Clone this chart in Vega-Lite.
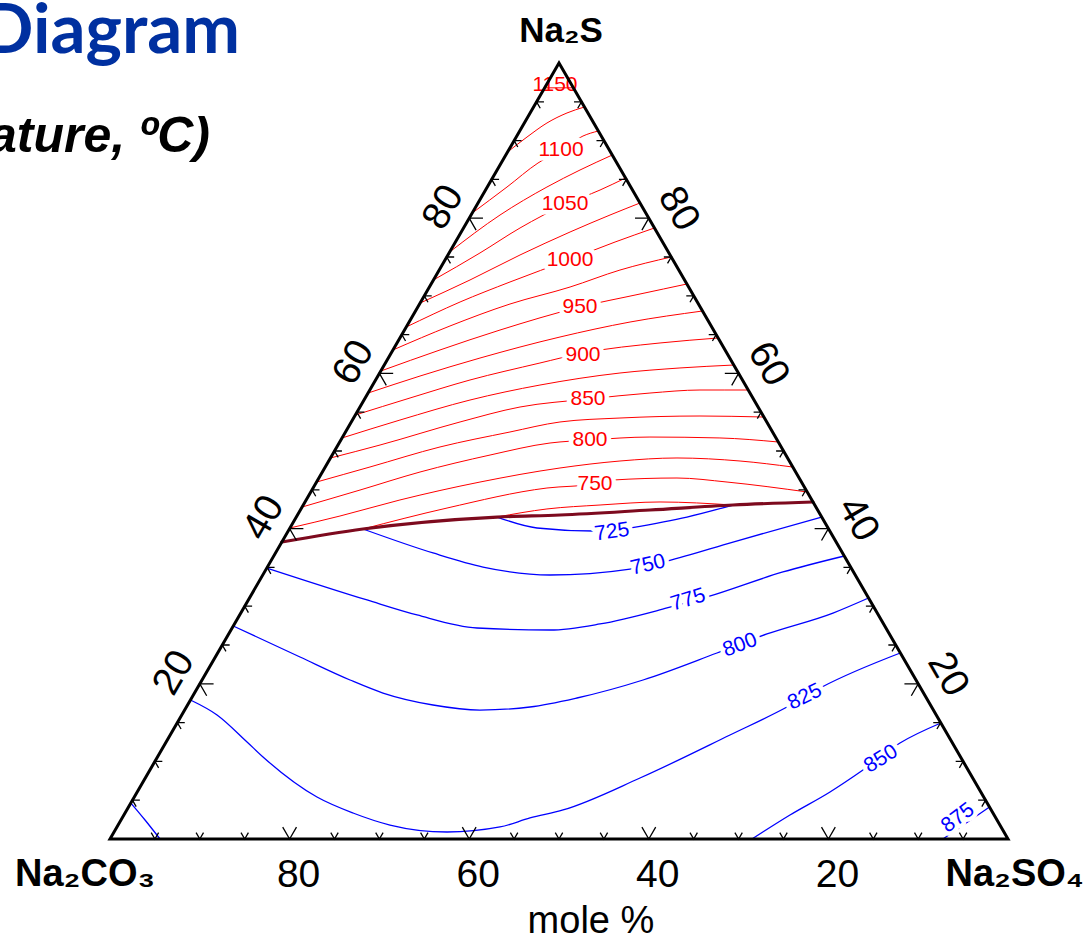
{
"$schema":"https://vega.github.io/schema/vega-lite/v6.json",
"width":898,"height":776,
"autosize":{"type":"none"},
"padding":{"left":110,"top":63,"right":79,"bottom":103},
"background":"white",
"config":{"view":{"stroke":null}},
"datasets":{
"contours":[
{"id":"r1150","kind":"red","k":0,"x":48.4,"s":96.8},{"id":"r1150","kind":"red","k":1,"x":51.6,"s":96.8},
{"id":"r1125","kind":"red","k":0,"x":44.27,"s":88.53},{"id":"r1125","kind":"red","k":1,"x":46.44,"s":90.46},{"id":"r1125","kind":"red","k":2,"x":48.66,"s":92.27},{"id":"r1125","kind":"red","k":3,"x":50.89,"s":93.56},{"id":"r1125","kind":"red","k":4,"x":52.83,"s":94.33},
{"id":"r1100","kind":"red","k":0,"x":40.34,"s":80.67},{"id":"r1100","kind":"red","k":1,"x":44.21,"s":84.02},{"id":"r1100","kind":"red","k":2,"x":47.66,"s":87.11},{"id":"r1100","kind":"red","k":3,"x":50.22,"s":88.79},{"id":"r1100","kind":"red","k":4,"x":52.67,"s":90.59},{"id":"r1100","kind":"red","k":5,"x":54.38,"s":91.24},
{"id":"r1075","kind":"red","k":0,"x":37.82,"s":75.64},{"id":"r1075","kind":"red","k":1,"x":43.43,"s":80.41},{"id":"r1075","kind":"red","k":2,"x":48.66,"s":84.02},{"id":"r1075","kind":"red","k":3,"x":52.34,"s":86.21},{"id":"r1075","kind":"red","k":4,"x":55.93,"s":88.14},
{"id":"r1050","kind":"red","k":0,"x":36.02,"s":72.04},{"id":"r1050","kind":"red","k":1,"x":41.2,"s":75.52},{"id":"r1050","kind":"red","k":2,"x":45.66,"s":78.74},{"id":"r1050","kind":"red","k":3,"x":50.78,"s":81.83},{"id":"r1050","kind":"red","k":4,"x":54.57,"s":83.63},{"id":"r1050","kind":"red","k":5,"x":57.41,"s":85.18},
{"id":"r1025","kind":"red","k":0,"x":34.54,"s":69.07},{"id":"r1025","kind":"red","k":1,"x":40.09,"s":72.04},{"id":"r1025","kind":"red","k":2,"x":45.66,"s":75.26},{"id":"r1025","kind":"red","k":3,"x":51.23,"s":78.22},{"id":"r1025","kind":"red","k":4,"x":55.68,"s":80.41},{"id":"r1025","kind":"red","k":5,"x":59.02,"s":81.96},
{"id":"r1000","kind":"red","k":0,"x":32.99,"s":65.98},{"id":"r1000","kind":"red","k":1,"x":38.98,"s":69.2},{"id":"r1000","kind":"red","k":2,"x":44.54,"s":71.78},{"id":"r1000","kind":"red","k":3,"x":51.34,"s":74.74},{"id":"r1000","kind":"red","k":4,"x":56.24,"s":76.93},{"id":"r1000","kind":"red","k":5,"x":60.63,"s":78.74},
{"id":"r975","kind":"red","k":0,"x":31.51,"s":63.02},{"id":"r975","kind":"red","k":1,"x":37.86,"s":66.11},{"id":"r975","kind":"red","k":2,"x":44.54,"s":68.94},{"id":"r975","kind":"red","k":3,"x":51.23,"s":71.13},{"id":"r975","kind":"red","k":4,"x":56.79,"s":73.32},{"id":"r975","kind":"red","k":5,"x":62.5,"s":75.0},
{"id":"r950","kind":"red","k":0,"x":30.16,"s":60.31},{"id":"r950","kind":"red","k":1,"x":36.75,"s":63.02},{"id":"r950","kind":"red","k":2,"x":43.43,"s":65.59},{"id":"r950","kind":"red","k":3,"x":52.34,"s":68.56},{"id":"r950","kind":"red","k":4,"x":59.02,"s":70.23},{"id":"r950","kind":"red","k":5,"x":64.24,"s":71.52},
{"id":"r925","kind":"red","k":0,"x":28.74,"s":57.47},{"id":"r925","kind":"red","k":1,"x":34.52,"s":59.66},{"id":"r925","kind":"red","k":2,"x":41.2,"s":61.98},{"id":"r925","kind":"red","k":3,"x":50.11,"s":64.69},{"id":"r925","kind":"red","k":4,"x":57.91,"s":66.62},{"id":"r925","kind":"red","k":5,"x":65.98,"s":68.04},
{"id":"r900","kind":"red","k":0,"x":27.32,"s":54.64},{"id":"r900","kind":"red","k":1,"x":33.41,"s":56.83},{"id":"r900","kind":"red","k":2,"x":40.09,"s":59.15},{"id":"r900","kind":"red","k":3,"x":47.88,"s":61.34},{"id":"r900","kind":"red","k":4,"x":52.67,"s":62.63},{"id":"r900","kind":"red","k":5,"x":61.25,"s":63.92},{"id":"r900","kind":"red","k":6,"x":67.72,"s":64.56},
{"id":"r875","kind":"red","k":0,"x":25.84,"s":51.68},{"id":"r875","kind":"red","k":1,"x":32.29,"s":53.99},{"id":"r875","kind":"red","k":2,"x":40.09,"s":56.57},{"id":"r875","kind":"red","k":3,"x":47.88,"s":58.5},{"id":"r875","kind":"red","k":4,"x":56.79,"s":60.05},{"id":"r875","kind":"red","k":5,"x":63.47,"s":60.7},{"id":"r875","kind":"red","k":6,"x":69.46,"s":61.08},
{"id":"r850","kind":"red","k":0,"x":24.55,"s":49.1},{"id":"r850","kind":"red","k":1,"x":30.07,"s":50.77},{"id":"r850","kind":"red","k":2,"x":38.98,"s":53.74},{"id":"r850","kind":"red","k":3,"x":45.66,"s":55.67},{"id":"r850","kind":"red","k":4,"x":53.23,"s":56.7},{"id":"r850","kind":"red","k":5,"x":60.13,"s":57.47},{"id":"r850","kind":"red","k":6,"x":65.7,"s":57.86},{"id":"r850","kind":"red","k":7,"x":71.07,"s":57.86},
{"id":"r825","kind":"red","k":0,"x":23.0,"s":46.0},{"id":"r825","kind":"red","k":1,"x":28.95,"s":47.94},{"id":"r825","kind":"red","k":2,"x":36.75,"s":50.52},{"id":"r825","kind":"red","k":3,"x":44.54,"s":52.45},{"id":"r825","kind":"red","k":4,"x":50.11,"s":53.74},{"id":"r825","kind":"red","k":5,"x":56.79,"s":54.25},{"id":"r825","kind":"red","k":6,"x":65.7,"s":54.51},{"id":"r825","kind":"red","k":7,"x":72.8,"s":54.38},
{"id":"r800","kind":"red","k":0,"x":21.39,"s":42.78},{"id":"r800","kind":"red","k":1,"x":27.84,"s":44.97},{"id":"r800","kind":"red","k":2,"x":34.52,"s":47.29},{"id":"r800","kind":"red","k":3,"x":42.32,"s":49.48},{"id":"r800","kind":"red","k":4,"x":49.0,"s":51.03},{"id":"r800","kind":"red","k":5,"x":53.45,"s":51.42},{"id":"r800","kind":"red","k":6,"x":60.13,"s":51.8},{"id":"r800","kind":"red","k":7,"x":67.92,"s":51.68},{"id":"r800","kind":"red","k":8,"x":74.42,"s":51.16},
{"id":"r775","kind":"red","k":0,"x":20.04,"s":40.08},{"id":"r775","kind":"red","k":1,"x":25.61,"s":41.62},{"id":"r775","kind":"red","k":2,"x":32.29,"s":43.69},{"id":"r775","kind":"red","k":3,"x":41.2,"s":46.0},{"id":"r775","kind":"red","k":4,"x":50.11,"s":47.81},{"id":"r775","kind":"red","k":5,"x":56.79,"s":48.71},{"id":"r775","kind":"red","k":6,"x":63.14,"s":49.1},{"id":"r775","kind":"red","k":7,"x":70.16,"s":48.71},{"id":"r775","kind":"red","k":8,"x":76.0,"s":47.94},
{"id":"r750","kind":"red","k":0,"x":28.17,"s":39.95},{"id":"r750","kind":"red","k":1,"x":37.53,"s":42.65},{"id":"r750","kind":"red","k":2,"x":48.66,"s":45.23},{"id":"r750","kind":"red","k":3,"x":54.01,"s":45.75},{"id":"r750","kind":"red","k":4,"x":56.01,"s":46.26},{"id":"r750","kind":"red","k":5,"x":63.14,"s":46.52},{"id":"r750","kind":"red","k":6,"x":68.71,"s":46.0},{"id":"r750","kind":"red","k":7,"x":77.62,"s":44.72},
{"id":"r725","kind":"red","k":0,"x":43.1,"s":41.49},{"id":"r725","kind":"red","k":1,"x":48.66,"s":42.53},{"id":"r725","kind":"red","k":2,"x":54.57,"s":43.04},{"id":"r725","kind":"red","k":3,"x":61.25,"s":43.43},{"id":"r725","kind":"red","k":4,"x":69.38,"s":43.04},
{"id":"valley","kind":"valley","k":0,"x":19.14,"s":38.27},{"id":"valley","kind":"valley","k":1,"x":28.17,"s":39.95},{"id":"valley","kind":"valley","k":2,"x":43.1,"s":41.49},{"id":"valley","kind":"valley","k":3,"x":50.11,"s":41.75},{"id":"valley","kind":"valley","k":4,"x":60.13,"s":42.4},{"id":"valley","kind":"valley","k":5,"x":69.38,"s":43.04},{"id":"valley","kind":"valley","k":6,"x":78.28,"s":43.43},
{"id":"b725","kind":"blue","k":0,"x":43.1,"s":41.49},{"id":"b725","kind":"blue","k":1,"x":47.55,"s":40.08},{"id":"b725","kind":"blue","k":2,"x":53.79,"s":39.69},{"id":"b725","kind":"blue","k":3,"x":55.9,"s":39.69},{"id":"b725","kind":"blue","k":4,"x":57.91,"s":40.08},{"id":"b725","kind":"blue","k":5,"x":64.25,"s":41.49},{"id":"b725","kind":"blue","k":6,"x":69.38,"s":43.04},
{"id":"b750","kind":"blue","k":0,"x":28.17,"s":39.95},{"id":"b750","kind":"blue","k":1,"x":35.97,"s":36.86},{"id":"b750","kind":"blue","k":2,"x":41.54,"s":35.05},{"id":"b750","kind":"blue","k":3,"x":49.0,"s":34.02},{"id":"b750","kind":"blue","k":4,"x":57.91,"s":34.79},{"id":"b750","kind":"blue","k":5,"x":62.03,"s":35.82},{"id":"b750","kind":"blue","k":6,"x":69.38,"s":38.27},{"id":"b750","kind":"blue","k":7,"x":79.25,"s":41.49},
{"id":"b775","kind":"blue","k":0,"x":17.46,"s":34.92},{"id":"b775","kind":"blue","k":1,"x":28.62,"s":30.8},{"id":"b775","kind":"blue","k":2,"x":34.19,"s":28.87},{"id":"b775","kind":"blue","k":3,"x":40.87,"s":27.19},{"id":"b775","kind":"blue","k":4,"x":49.0,"s":26.93},{"id":"b775","kind":"blue","k":5,"x":54.57,"s":27.71},{"id":"b775","kind":"blue","k":6,"x":62.03,"s":29.77},{"id":"b775","kind":"blue","k":7,"x":66.48,"s":31.19},{"id":"b775","kind":"blue","k":8,"x":74.94,"s":34.41},{"id":"b775","kind":"blue","k":9,"x":81.77,"s":36.47},
{"id":"b800","kind":"blue","k":0,"x":13.72,"s":27.45},{"id":"b800","kind":"blue","k":1,"x":21.16,"s":23.45},{"id":"b800","kind":"blue","k":2,"x":26.73,"s":20.49},{"id":"b800","kind":"blue","k":3,"x":30.4,"s":18.81},{"id":"b800","kind":"blue","k":4,"x":35.97,"s":17.27},{"id":"b800","kind":"blue","k":5,"x":41.2,"s":16.62},{"id":"b800","kind":"blue","k":6,"x":46.77,"s":17.01},{"id":"b800","kind":"blue","k":7,"x":52.0,"s":18.17},{"id":"b800","kind":"blue","k":8,"x":59.36,"s":20.49},{"id":"b800","kind":"blue","k":9,"x":67.59,"s":23.97},{"id":"b800","kind":"blue","k":10,"x":73.16,"s":26.42},{"id":"b800","kind":"blue","k":11,"x":80.51,"s":29.12},{"id":"b800","kind":"blue","k":12,"x":84.47,"s":31.06},
{"id":"b825","kind":"blue","k":0,"x":8.96,"s":17.91},{"id":"b825","kind":"blue","k":1,"x":11.92,"s":15.98},{"id":"b825","kind":"blue","k":2,"x":15.26,"s":12.5},{"id":"b825","kind":"blue","k":3,"x":17.04,"s":10.57},{"id":"b825","kind":"blue","k":4,"x":23.05,"s":5.41},{"id":"b825","kind":"blue","k":5,"x":27.06,"s":3.35},{"id":"b825","kind":"blue","k":6,"x":31.18,"s":1.8},{"id":"b825","kind":"blue","k":7,"x":37.53,"s":0.9},{"id":"b825","kind":"blue","k":8,"x":43.43,"s":1.55},{"id":"b825","kind":"blue","k":9,"x":46.77,"s":2.71},{"id":"b825","kind":"blue","k":10,"x":50.45,"s":3.74},{"id":"b825","kind":"blue","k":11,"x":59.02,"s":7.86},{"id":"b825","kind":"blue","k":12,"x":69.04,"s":13.4},{"id":"b825","kind":"blue","k":13,"x":75.39,"s":17.01},{"id":"b825","kind":"blue","k":14,"x":79.29,"s":19.59},{"id":"b825","kind":"blue","k":15,"x":88.0,"s":23.97},
{"id":"b850","kind":"blue","k":0,"x":71.49,"s":0},{"id":"b850","kind":"blue","k":1,"x":75.72,"s":3.09},{"id":"b850","kind":"blue","k":2,"x":80.18,"s":6.06},{"id":"b850","kind":"blue","k":3,"x":83.85,"s":8.89},{"id":"b850","kind":"blue","k":4,"x":87.97,"s":12.37},{"id":"b850","kind":"blue","k":5,"x":92.53,"s":14.95},
{"id":"b850c","kind":"blue","k":0,"x":2.32,"s":4.64},{"id":"b850c","kind":"blue","k":1,"x":3.9,"s":2.45},{"id":"b850c","kind":"blue","k":2,"x":5.57,"s":0},
{"id":"b875","kind":"blue","k":0,"x":92.76,"s":0},{"id":"b875","kind":"blue","k":1,"x":97.94,"s":4.12}
],
"rlab":[
{"t":1150,"x":49.55,"s":97.17},{"t":1100,"x":50.22,"s":88.79},{"t":1050,"x":50.67,"s":81.83},{"t":1000,"x":51.23,"s":74.61},{"t":950,"x":52.34,"s":68.56},{"t":900,"x":52.67,"s":62.37},{"t":850,"x":53.23,"s":56.7},{"t":800,"x":53.45,"s":51.42},{"t":750,"x":54.01,"s":45.75}
],
"blab":[
{"t":725,"x":55.9,"s":39.56},{"t":750,"x":59.91,"s":35.31},{"t":775,"x":64.37,"s":30.8},{"t":800,"x":70.16,"s":25.0},{"t":825,"x":77.39,"s":18.3},{"t":850,"x":85.86,"s":10.31},{"t":875,"x":94.43,"s":2.71}
],
"ticks":[
{"side":"b","x":5,"s":0,"m":0},{"side":"b","x":10,"s":0,"m":0},{"side":"b","x":15,"s":0,"m":0},{"side":"b","x":20,"s":0,"m":1},{"side":"b","x":25,"s":0,"m":0},{"side":"b","x":30,"s":0,"m":0},{"side":"b","x":35,"s":0,"m":0},{"side":"b","x":40,"s":0,"m":1},{"side":"b","x":45,"s":0,"m":0},{"side":"b","x":50,"s":0,"m":0},{"side":"b","x":55,"s":0,"m":0},{"side":"b","x":60,"s":0,"m":1},{"side":"b","x":65,"s":0,"m":0},{"side":"b","x":70,"s":0,"m":0},{"side":"b","x":75,"s":0,"m":0},{"side":"b","x":80,"s":0,"m":1},{"side":"b","x":85,"s":0,"m":0},{"side":"b","x":90,"s":0,"m":0},{"side":"b","x":95,"s":0,"m":0},
{"side":"l","x":2.5,"s":5,"m":0},{"side":"l","x":5,"s":10,"m":0},{"side":"l","x":7.5,"s":15,"m":0},{"side":"l","x":10,"s":20,"m":1},{"side":"l","x":12.5,"s":25,"m":0},{"side":"l","x":15,"s":30,"m":0},{"side":"l","x":17.5,"s":35,"m":0},{"side":"l","x":20,"s":40,"m":1},{"side":"l","x":22.5,"s":45,"m":0},{"side":"l","x":25,"s":50,"m":0},{"side":"l","x":27.5,"s":55,"m":0},{"side":"l","x":30,"s":60,"m":1},{"side":"l","x":32.5,"s":65,"m":0},{"side":"l","x":35,"s":70,"m":0},{"side":"l","x":37.5,"s":75,"m":0},{"side":"l","x":40,"s":80,"m":1},{"side":"l","x":42.5,"s":85,"m":0},{"side":"l","x":45,"s":90,"m":0},{"side":"l","x":47.5,"s":95,"m":0},
{"side":"r","x":97.5,"s":5,"m":0},{"side":"r","x":95,"s":10,"m":0},{"side":"r","x":92.5,"s":15,"m":0},{"side":"r","x":90,"s":20,"m":1},{"side":"r","x":87.5,"s":25,"m":0},{"side":"r","x":85,"s":30,"m":0},{"side":"r","x":82.5,"s":35,"m":0},{"side":"r","x":80,"s":40,"m":1},{"side":"r","x":77.5,"s":45,"m":0},{"side":"r","x":75,"s":50,"m":0},{"side":"r","x":72.5,"s":55,"m":0},{"side":"r","x":70,"s":60,"m":1},{"side":"r","x":67.5,"s":65,"m":0},{"side":"r","x":65,"s":70,"m":0},{"side":"r","x":62.5,"s":75,"m":0},{"side":"r","x":60,"s":80,"m":1},{"side":"r","x":57.5,"s":85,"m":0},{"side":"r","x":55,"s":90,"m":0},{"side":"r","x":52.5,"s":95,"m":0}
]
},
"encoding":{
"x":{"field":"x","type":"quantitative","scale":{"domain":[0,100],"nice":false,"zero":false},"axis":null},
"y":{"field":"s","type":"quantitative","scale":{"domain":[0,100],"nice":false,"zero":false},"axis":null}
},
"layer":[
{"data":{"name":"contours"},"transform":[{"filter":"datum.kind != 'valley'"}],
 "mark":{"type":"line","interpolate":"monotone","strokeCap":"round","strokeJoin":"round"},
 "encoding":{"detail":{"field":"id","type":"nominal"},"order":{"field":"k","type":"quantitative"},
  "color":{"field":"kind","type":"nominal","scale":{"domain":["red","blue","valley"],"range":["#ff0000","#0000ff","#7d0a1e"]},"legend":null},
  "strokeWidth":{"field":"kind","type":"nominal","scale":{"type":"ordinal","domain":["red","blue","valley"],"range":[1,1.3,3.2]},"legend":null}}},
{"data":{"name":"contours"},"transform":[{"filter":"datum.kind == 'valley'"}],
 "mark":{"type":"line","interpolate":"monotone","strokeCap":"round","strokeJoin":"round","color":"#7d0a1e","strokeWidth":3.2},
 "encoding":{"order":{"field":"k","type":"quantitative"}}},
{"data":{"name":"rlab"},"transform":[{"filter":"datum.t != 1150"}],
 "mark":{"type":"text","font":"Liberation Sans","fontSize":21,"align":"center","baseline":"middle","fill":"white","stroke":"white","strokeWidth":9,"strokeJoin":"round"},
 "encoding":{"text":{"field":"t","type":"nominal"}}},
{"data":{"name":"rlab"},
 "mark":{"type":"text","font":"Liberation Sans","fontSize":21,"align":"center","baseline":"middle","fill":"#ff0000"},
 "encoding":{"text":{"field":"t","type":"nominal"}}},
{"data":{"name":"blab"},
 "mark":{"type":"text","font":"Liberation Sans","fontSize":21,"align":"center","baseline":"middle","fill":"white","stroke":"white","strokeWidth":9,"strokeJoin":"round"},
 "encoding":{"text":{"field":"t","type":"nominal"},
  "angle":{"field":"t","type":"nominal","scale":{"type":"ordinal","domain":[725,750,775,800,825,850,875],"range":[352,347,343,340,334,328,323]},"legend":null}}},
{"data":{"name":"blab"},
 "mark":{"type":"text","font":"Liberation Sans","fontSize":21,"align":"center","baseline":"middle","fill":"#0000ff"},
 "encoding":{"text":{"field":"t","type":"nominal"},
  "angle":{"field":"t","type":"nominal","scale":{"type":"ordinal","domain":[725,750,775,800,825,850,875],"range":[352,347,343,340,334,328,323]},"legend":null}}},
{"data":{"values":[{"k":0,"x":0,"s":0},{"k":1,"x":100,"s":0},{"k":2,"x":50,"s":100},{"k":3,"x":0,"s":0},{"k":4,"x":100,"s":0}]},
 "mark":{"type":"line","color":"black","strokeWidth":3,"strokeJoin":"miter","strokeMiterLimit":10},
 "encoding":{"order":{"field":"k","type":"quantitative"}}},
{"data":{"name":"ticks"},
 "mark":{"type":"point","filled":false,"color":"black","strokeWidth":1.3,"opacity":1},
 "encoding":{
  "shape":{"field":"side","type":"nominal","scale":{"domain":["b","l","r"],"range":["M-0.5,-0.866L0,0L0.5,-0.866","M1,0L0,0L0.5,0.866","M-1,0L0,0L-0.5,0.866"]},"legend":null},
  "size":{"field":"m","type":"nominal","scale":{"type":"ordinal","domain":[0,1],"range":[220,760]},"legend":null}}},
{"data":{"values":[{"v":"80","x":20,"s":0},{"v":"60","x":40,"s":0},{"v":"40","x":60,"s":0},{"v":"20","x":80,"s":0}]},
 "mark":{"type":"text","font":"Liberation Sans","fontSize":39,"align":"center","baseline":"middle","dx":9,"dy":36,"color":"black"},
 "encoding":{"text":{"field":"v","type":"nominal"}}},
{"data":{"values":[{"v":"80","x":40,"s":80},{"v":"60","x":30,"s":60},{"v":"40","x":20,"s":40},{"v":"20","x":10,"s":20}]},
 "mark":{"type":"text","font":"Liberation Sans","fontSize":39,"align":"center","baseline":"middle","angle":300,"dx":-3.5,"dy":-28,"color":"black"},
 "encoding":{"text":{"field":"v","type":"nominal"}}},
{"data":{"values":[{"v":"80","x":60,"s":80},{"v":"60","x":70,"s":60},{"v":"40","x":80,"s":40},{"v":"20","x":90,"s":20}]},
 "mark":{"type":"text","font":"Liberation Sans","fontSize":39,"align":"center","baseline":"middle","angle":60,"dx":6.8,"dy":-30.7,"color":"black"},
 "encoding":{"text":{"field":"v","type":"nominal"}}},
{"data":{"values":[{"label":"Na₂S","x":50.22,"s":102.71}]},
 "mark":{"type":"text","font":"Liberation Sans","fontSize":35,"fontWeight":"bold","align":"center","baseline":"alphabetic","color":"black"},
 "encoding":{"text":{"field":"label","type":"nominal"}}},
{"data":{"values":[{"label":"Na₂CO₃","x":-10.58,"s":-6.06}]},
 "mark":{"type":"text","font":"Liberation Sans","fontSize":38,"fontWeight":"bold","align":"left","baseline":"alphabetic","color":"black"},
 "encoding":{"text":{"field":"label","type":"nominal"}}},
{"data":{"values":[{"label":"Na₂SO₄","x":108.46,"s":-6.06}]},
 "mark":{"type":"text","font":"Liberation Sans","fontSize":38,"fontWeight":"bold","align":"right","baseline":"alphabetic","color":"black"},
 "encoding":{"text":{"field":"label","type":"nominal"}}},
{"data":{"values":[{"label":"mole %","x":53.56,"s":-12.11}]},
 "mark":{"type":"text","font":"Liberation Sans","fontSize":38,"align":"center","baseline":"alphabetic","color":"black"},
 "encoding":{"text":{"field":"label","type":"nominal"}}},
{"data":{"values":[{"label":"Diagram","x":14.48,"s":101.29}]},
 "mark":{"type":"text","font":"Lato","fontSize":69,"fontWeight":"bold","align":"right","baseline":"alphabetic","color":"#0030a0"},
 "encoding":{"text":{"field":"label","type":"nominal"}}},
{"data":{"values":[{"label":"Temperature, ºC)","x":11.14,"s":88.53}]},
 "mark":{"type":"text","font":"Liberation Sans","fontSize":50,"fontWeight":"bold","fontStyle":"italic","align":"right","baseline":"alphabetic","color":"black"},
 "encoding":{"text":{"field":"label","type":"nominal"}}}
]
}
